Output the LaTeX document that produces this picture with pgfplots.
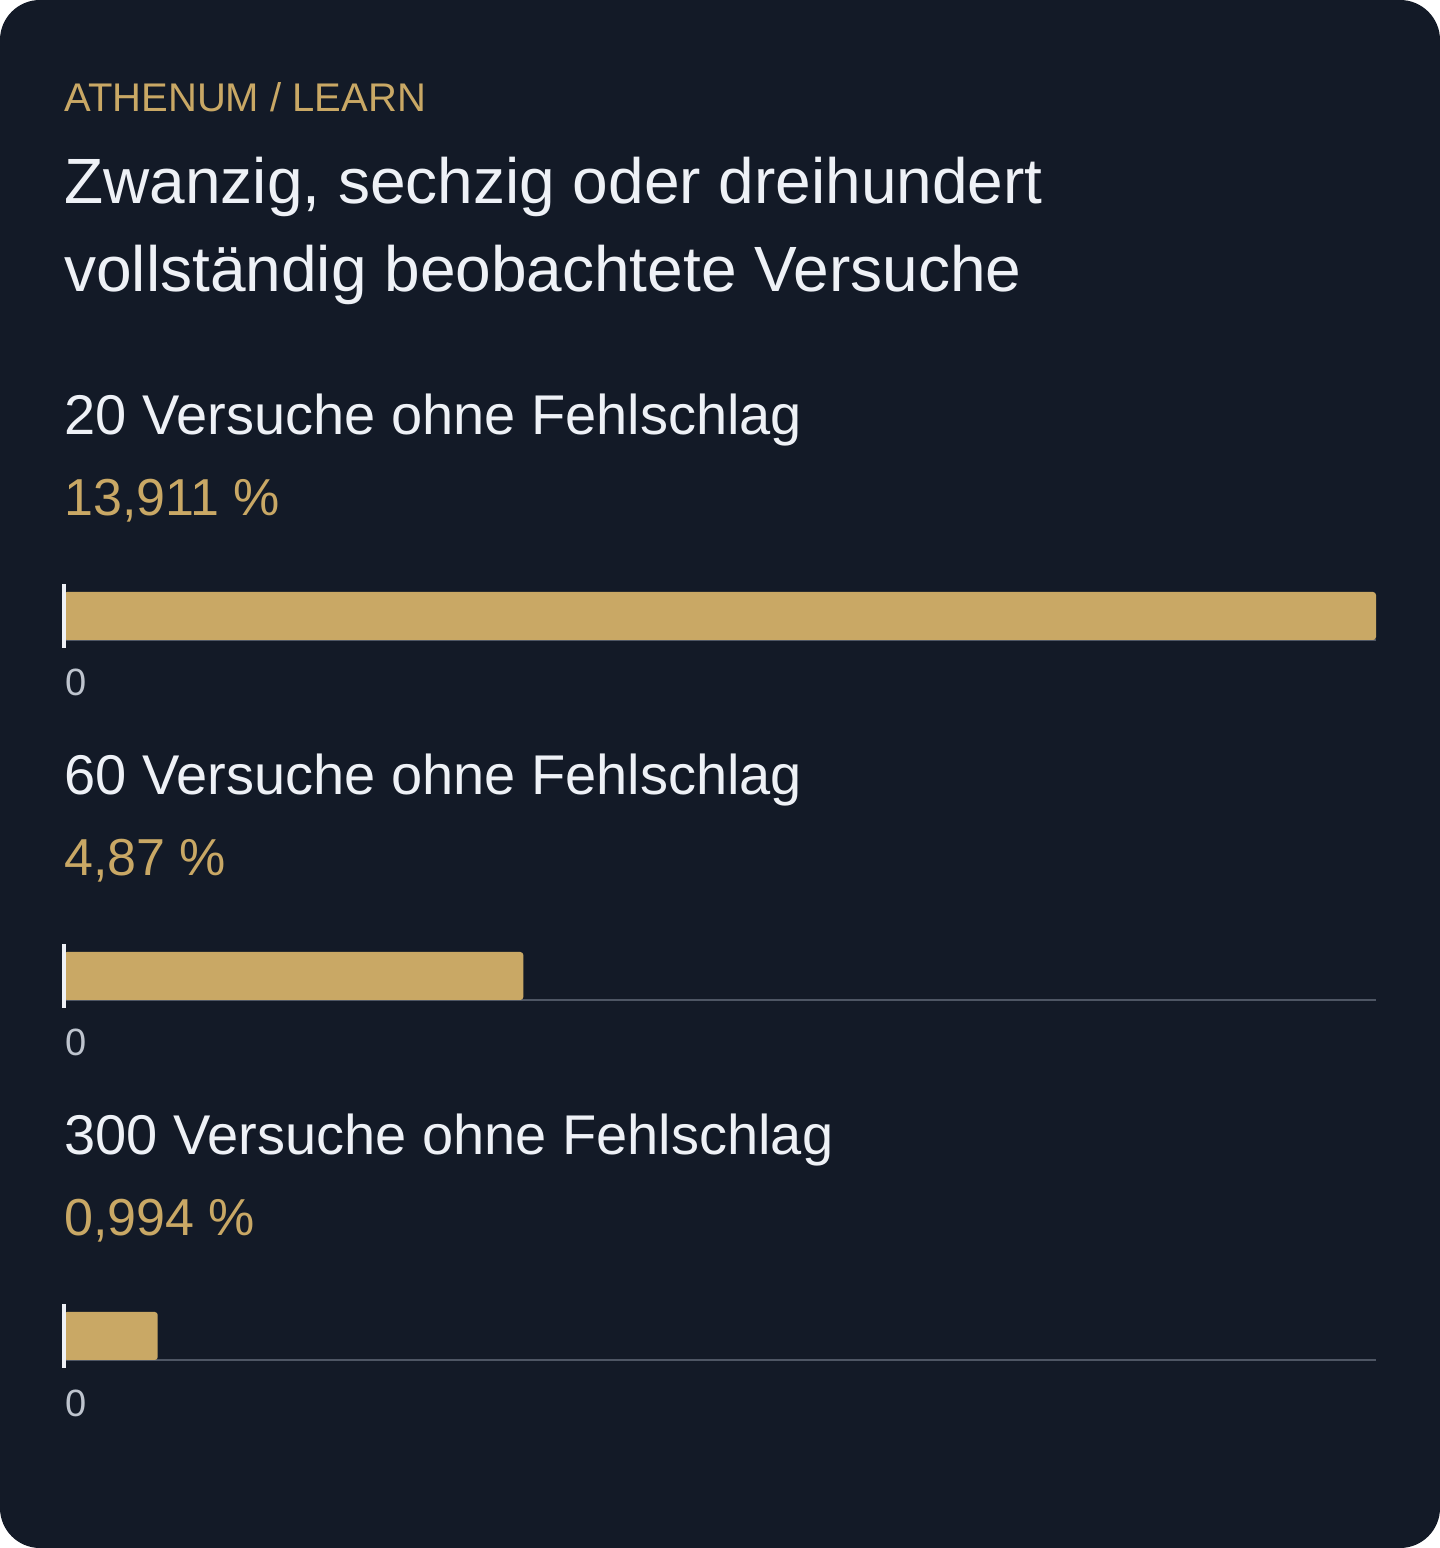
\documentclass[border=0pt]{standalone}
\usepackage{fontspec}
\setmainfont{Liberation Sans}
\usepackage{pgfplots}
\pgfplotsset{compat=1.18}
\definecolor{bg}{RGB}{19,26,39}
\definecolor{gold}{RGB}{201,168,101}
\definecolor{txtwhite}{RGB}{238,241,246}
\definecolor{ticgray}{RGB}{190,196,206}
\definecolor{linegray}{RGB}{78,86,100}
\pgfplotsset{panel/.style={
  width=656pt, height=32pt, scale only axis,
  xmin=0, xmax=13.911, ymin=-0.5, ymax=0.5,
  axis line style={draw=none},
  ytick=\empty, xtick={0},
  major tick length=0pt,
  /pgf/number format/assume math mode=true,
  xticklabel style={font=\fontsize{19}{22}\selectfont, text=ticgray, anchor=base west, inner sep=0pt, yshift=-24pt, xshift=0.5pt},
  clip=false,
  anchor=south west,
}}
\newcommand{\panelbar}[1]{%
  \draw[linegray, line width=1pt] (axis cs:0,-0.375) -- (axis cs:13.911,-0.375);
  \addplot[xbar, bar width=24pt, fill=gold, draw=none, rounded corners=1.5pt] coordinates {(#1,0)};
  \draw[txtwhite, line width=2pt] (axis cs:0,-0.5) -- (axis cs:0,0.5);
}
\begin{document}
\begin{tikzpicture}
\useasboundingbox (0,0) rectangle (720pt,774pt);
\fill[white] (0,0) rectangle (720pt,774pt);
\fill[bg, rounded corners=20pt] (0,0) rectangle (720pt,774pt);
\node[anchor=base west, inner sep=0pt, text=gold, font=\fontsize{20}{24}\selectfont] at (32pt,718pt) {ATHENUM / LEARN};
\node[anchor=base west, inner sep=0pt, text=txtwhite, font=\fontsize{32}{44}\selectfont] at (32pt,672pt) {Zwanzig, sechzig oder dreihundert};
\node[anchor=base west, inner sep=0pt, text=txtwhite, font=\fontsize{32}{44}\selectfont] at (32pt,628pt) {vollständig beobachtete Versuche};
% panel 1
\node[anchor=base west, inner sep=0pt, text=txtwhite, font=\fontsize{28}{32}\selectfont] at (32pt,556.5pt) {20 Versuche ohne Fehlschlag};
\node[anchor=base west, inner sep=0pt, text=gold, font=\fontsize{26}{30}\selectfont] at (32pt,516pt) {13,911 \%};
\begin{axis}[panel, at={(32pt,450pt)}]
\panelbar{13.911}
\end{axis}
% panel 2
\node[anchor=base west, inner sep=0pt, text=txtwhite, font=\fontsize{28}{32}\selectfont] at (32pt,376.5pt) {60 Versuche ohne Fehlschlag};
\node[anchor=base west, inner sep=0pt, text=gold, font=\fontsize{26}{30}\selectfont] at (32pt,336pt) {4,87 \%};
\begin{axis}[panel, at={(32pt,270pt)}]
\panelbar{4.87}
\end{axis}
% panel 3
\node[anchor=base west, inner sep=0pt, text=txtwhite, font=\fontsize{28}{32}\selectfont] at (32pt,196.5pt) {300 Versuche ohne Fehlschlag};
\node[anchor=base west, inner sep=0pt, text=gold, font=\fontsize{26}{30}\selectfont] at (32pt,156pt) {0,994 \%};
\begin{axis}[panel, at={(32pt,90pt)}]
\panelbar{0.994}
\end{axis}
\end{tikzpicture}
\end{document}
